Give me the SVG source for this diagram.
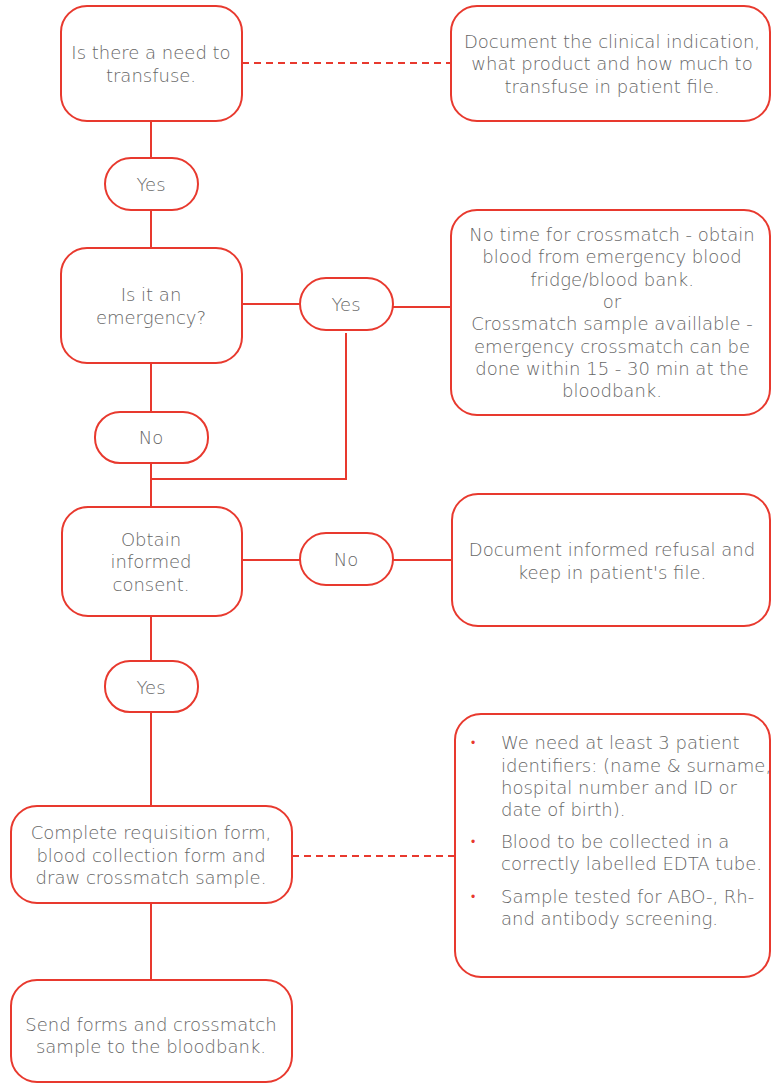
<svg xmlns="http://www.w3.org/2000/svg" width="772" height="1084" viewBox="0 0 772 1084">
<style>
.box{fill:#fff;stroke:#e8392e;stroke-width:2}
.ln{fill:none;stroke:#e8392e;stroke-width:2}
.dash{fill:none;stroke:#e8392e;stroke-width:2;stroke-dasharray:7 5}
text{font-family:"DejaVu Sans","Liberation Sans",sans-serif;font-size:18px;font-weight:300;fill:#666;text-anchor:middle}
.l{text-anchor:start}
.b{fill:#e8392e;font-size:12px}
</style>
<rect width="772" height="1084" fill="#fff"/>
<g id="connectors">
<line class="dash" x1="242" y1="63" x2="451" y2="63"/>
<line class="ln" x1="151" y1="121" x2="151" y2="158"/>
<line class="ln" x1="151" y1="210" x2="151" y2="248"/>
<line class="ln" x1="242" y1="304" x2="300" y2="304"/>
<line class="ln" x1="393" y1="307" x2="451" y2="307"/>
<polyline class="ln" points="346,333 346,479 151,479"/>
<line class="ln" x1="151" y1="363" x2="151" y2="412"/>
<line class="ln" x1="151" y1="463" x2="151" y2="507"/>
<line class="ln" x1="242" y1="560" x2="300" y2="560"/>
<line class="ln" x1="393" y1="560" x2="452" y2="560"/>
<line class="ln" x1="151" y1="616" x2="151" y2="661"/>
<line class="ln" x1="151" y1="712" x2="151" y2="806"/>
<line class="dash" x1="292" y1="856" x2="455" y2="856"/>
<line class="ln" x1="151" y1="903" x2="151" y2="980"/>
</g>
<g id="n1"><rect class="box" x="61" y="6" width="181" height="115" rx="26"/>
<text x="151" y="59">Is there a need to</text><text x="151" y="82">transfuse.</text></g>
<g id="n2"><rect class="box" x="451" y="6" width="319" height="115" rx="26"/>
<text x="612" y="48">Document the clinical indication,</text><text x="612" y="70">what product and how much to</text><text x="612" y="93">transfuse in patient file.</text></g>
<g id="n3"><rect class="box" x="105" y="158" width="93" height="52" rx="26"/><text x="151" y="191">Yes</text></g>
<g id="n4"><rect class="box" x="61" y="248" width="181" height="115" rx="26"/>
<text x="151" y="301">Is it an</text><text x="151" y="324">emergency?</text></g>
<g id="n5"><rect class="box" x="300" y="278" width="93" height="52" rx="26"/><text x="346" y="311">Yes</text></g>
<g id="n6"><rect class="box" x="451" y="210" width="319" height="205" rx="26"/>
<text x="612" y="241">No time for crossmatch - obtain</text>
<text x="612" y="263">blood from emergency blood</text>
<text x="612" y="286">fridge/blood bank.</text>
<text x="612" y="308">or</text>
<text x="612" y="330">Crossmatch sample availlable -</text>
<text x="612" y="353">emergency crossmatch can be</text>
<text x="612" y="375">done within 15 - 30 min at the</text>
<text x="612" y="397">bloodbank.</text></g>
<g id="n7"><rect class="box" x="95" y="412" width="113" height="51" rx="25"/><text x="151" y="444">No</text></g>
<g id="n8"><rect class="box" x="62" y="507" width="180" height="109" rx="26"/>
<text x="151" y="546">Obtain</text><text x="151" y="568">informed</text><text x="151" y="591">consent.</text></g>
<g id="n9"><rect class="box" x="300" y="533" width="93" height="52" rx="26"/><text x="346" y="566">No</text></g>
<g id="n10"><rect class="box" x="452" y="494" width="318" height="132" rx="26"/>
<text x="612" y="556">Document informed refusal and</text><text x="612" y="579">keep in patient's file.</text></g>
<g id="n11"><rect class="box" x="105" y="661" width="93" height="51" rx="25"/><text x="151" y="694">Yes</text></g>
<g id="n12"><rect class="box" x="11" y="806" width="281" height="97" rx="26"/>
<text x="151" y="839">Complete requisition form,</text><text x="151" y="862">blood collection form and</text><text x="151" y="884">draw crossmatch sample.</text></g>
<g id="n13"><rect class="box" x="455" y="714" width="315" height="263" rx="26"/>
<text class="b" x="473" y="747">•</text><text class="b" x="473" y="846">•</text><text class="b" x="473" y="901">•</text>
<text class="l" x="501" y="749">We need at least 3 patient</text>
<text class="l" x="501" y="772">identifiers: (name &amp; surname,</text>
<text class="l" x="501" y="794">hospital number and ID or</text>
<text class="l" x="501" y="816">date of birth).</text>
<text class="l" x="501" y="848">Blood to be collected in a</text>
<text class="l" x="501" y="870">correctly labelled EDTA tube.</text>
<text class="l" x="501" y="903">Sample tested for ABO-, Rh-</text>
<text class="l" x="501" y="925">and antibody screening.</text></g>
<g id="n14"><rect class="box" x="11" y="980" width="281" height="102" rx="26"/>
<text x="151" y="1031">Send forms and crossmatch</text><text x="151" y="1053">sample to the bloodbank.</text></g>
</svg>
